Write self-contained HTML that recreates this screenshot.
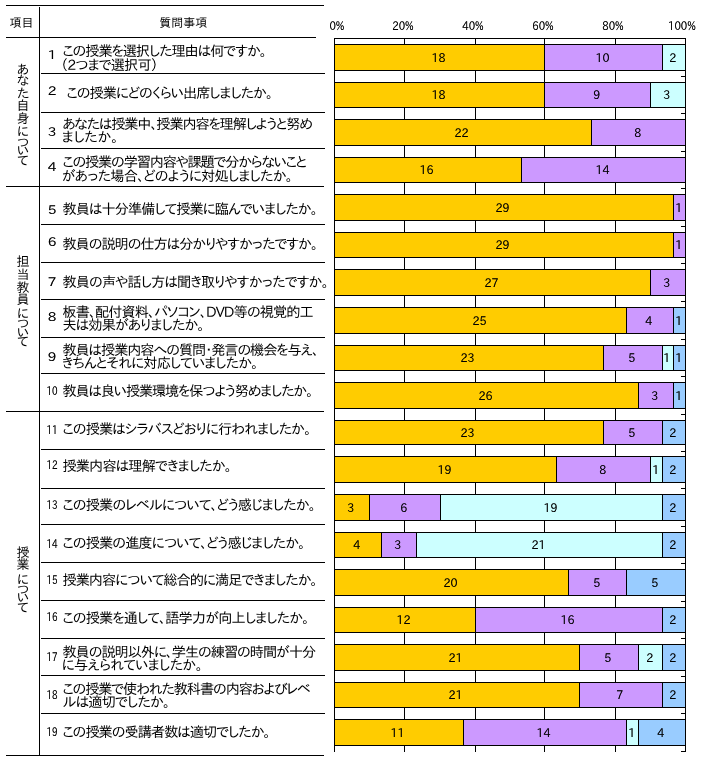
<!DOCTYPE html><html lang="ja"><head><meta charset="utf-8"><title>授業評価アンケート</title><style>
html,body{margin:0;padding:0;background:#fff;}
body{width:707px;height:768px;position:relative;overflow:hidden;font-family:"IPAPGothic","IPAGothic","Liberation Sans","Noto Sans CJK JP",sans-serif;color:#000;}
.n,.seg,.ax{text-shadow:0 0 0 rgba(0,0,0,.5);}
.l{position:absolute;background:#000;}
.q{position:absolute;left:0;top:0;font-size:14.2px;fill:#000;}
.h{position:absolute;white-space:nowrap;font-size:12px;line-height:14px;}
.n{position:absolute;white-space:nowrap;font-size:12px;line-height:14px;text-align:center;width:20px;}
.n{transform:scaleX(1.15);}
.n.s{transform:scaleX(0.74);}
.vs{position:absolute;left:0;top:0;font-size:13px;fill:#000;}
.seg{position:absolute;box-sizing:border-box;border:1px solid #000;font-size:12px;text-align:center;overflow:hidden;white-space:nowrap;}
.seg span{display:inline-block;transform:scaleX(0.93);position:relative;left:-1px;top:-1px;}
.ax{position:absolute;font-size:12px;line-height:12px;width:40px;text-align:center;transform:scaleX(0.85);}
</style></head><body>
<div class="l" style="left:6px;top:5px;width:318px;height:1px"></div>
<div class="l" style="left:6px;top:37px;width:310px;height:1px"></div>
<div class="l" style="left:6px;top:186px;width:318px;height:1px"></div>
<div class="l" style="left:6px;top:411px;width:318px;height:1px"></div>
<div class="l" style="left:6px;top:755px;width:318px;height:1px"></div>
<div class="l" style="left:41px;top:73px;width:284px;height:1px"></div>
<div class="l" style="left:41px;top:112px;width:284px;height:1px"></div>
<div class="l" style="left:41px;top:148px;width:284px;height:1px"></div>
<div class="l" style="left:41px;top:224px;width:284px;height:1px"></div>
<div class="l" style="left:41px;top:262px;width:284px;height:1px"></div>
<div class="l" style="left:41px;top:299px;width:284px;height:1px"></div>
<div class="l" style="left:41px;top:337px;width:284px;height:1px"></div>
<div class="l" style="left:41px;top:373px;width:284px;height:1px"></div>
<div class="l" style="left:41px;top:449px;width:284px;height:1px"></div>
<div class="l" style="left:41px;top:488px;width:284px;height:1px"></div>
<div class="l" style="left:41px;top:524px;width:284px;height:1px"></div>
<div class="l" style="left:41px;top:562px;width:284px;height:1px"></div>
<div class="l" style="left:41px;top:600px;width:284px;height:1px"></div>
<div class="l" style="left:41px;top:638px;width:284px;height:1px"></div>
<div class="l" style="left:41px;top:675px;width:284px;height:1px"></div>
<div class="l" style="left:41px;top:713px;width:284px;height:1px"></div>
<div class="l" style="left:39px;top:7px;width:1px;height:748px"></div>
<div class="h" style="left:9.5px;top:15px;">項目</div>
<div class="h" style="left:159.3px;top:15px;">質問事項</div>
<svg class="vs" width="40" height="768" viewBox="0 0 40 768"><text x="23 23 23 23 23 23 23 23 23" y="73.6 85.1 97.8 110.0 122.7 135.9 146.9 155.4 165.1" text-anchor="middle">あなた自身について</text></svg>
<svg class="vs" width="40" height="768" viewBox="0 0 40 768"><text x="23 23 23 23 23 23 23 23" y="265.9 278.6 291.7 304.4 317.6 328.1 337.1 346.4" text-anchor="middle">担当教員について</text></svg>
<svg class="vs" width="40" height="768" viewBox="0 0 40 768"><text x="23 23 23 23 23 23" y="556.7 569.4 583.7 593.9 602.4 611.7" text-anchor="middle">授業について</text></svg>
<div class="n" style="left:42.2px;top:46.7px;">1</div>
<div class="n" style="left:42.2px;top:83.4px;">2</div>
<div class="n" style="left:42.2px;top:124.2px;">3</div>
<div class="n" style="left:42.2px;top:159.0px;">4</div>
<div class="n" style="left:42.2px;top:202.0px;">5</div>
<div class="n" style="left:42.2px;top:233.7px;">6</div>
<div class="n" style="left:42.2px;top:273.8px;">7</div>
<div class="n" style="left:42.2px;top:309.0px;">8</div>
<div class="n" style="left:42.2px;top:349.4px;">9</div>
<div class="n s" style="left:41.5px;top:383.4px;">10</div>
<div class="n s" style="left:41.5px;top:422.3px;">11</div>
<div class="n s" style="left:41.5px;top:457.4px;">12</div>
<div class="n s" style="left:41.5px;top:496.5px;">13</div>
<div class="n s" style="left:41.5px;top:536.1px;">14</div>
<div class="n s" style="left:41.5px;top:572.4px;">15</div>
<div class="n s" style="left:41.5px;top:608.7px;">16</div>
<div class="n s" style="left:41.5px;top:649.0px;">17</div>
<div class="n s" style="left:41.5px;top:687.3px;">18</div>
<div class="n s" style="left:41.5px;top:724.4px;">19</div>
<svg class="q" width="707" height="768" viewBox="0 0 707 768">
<text x="62.40" y="56" textLength="204.46" lengthAdjust="spacing">この授業を選択した理由は何ですか。</text>
<text x="60.30" y="70" textLength="98.24" lengthAdjust="spacing">（2つまで選択可）</text>
<text x="66.60" y="98" textLength="206.48" lengthAdjust="spacing">この授業にどのくらい出席しましたか。</text>
<text x="62.40" y="129" textLength="250.74" lengthAdjust="spacing">あなたは授業中、授業内容を理解しようと努め</text>
<text x="61.70" y="142" textLength="56.52" lengthAdjust="spacing">ましたか。</text>
<text x="62.40" y="167" textLength="244.74" lengthAdjust="spacing">この授業の学習内容や課題で分からないこと</text>
<text x="61.70" y="181" textLength="231.18" lengthAdjust="spacing">があった場合、どのように対処しましたか。</text>
<text x="62.40" y="214" textLength="255.48" lengthAdjust="spacing">教員は十分準備して授業に臨んでいましたか。</text>
<text x="62.40" y="249" textLength="255.64" lengthAdjust="spacing">教員の説明の仕方は分かりやすかったですか。</text>
<text x="62.40" y="287" textLength="266.32" lengthAdjust="spacing">教員の声や話し方は聞き取りやすかったですか。</text>
<text x="62.40" y="317" textLength="251.24" lengthAdjust="spacing">板書、配付資料、パソコン、DVD等の視覚的工</text>
<text x="62.40" y="330" textLength="142.14" lengthAdjust="spacing">夫は効果がありましたか。</text>
<text x="62.40" y="355" textLength="256.68" lengthAdjust="spacing">教員は授業内容への質問・発言の機会を与え、</text>
<text x="61.70" y="368" textLength="196.66" lengthAdjust="spacing">きちんとそれに対応していましたか。</text>
<text x="62.40" y="396" textLength="250.82" lengthAdjust="spacing">教員は良い授業環境を保つよう努めましたか。</text>
<text x="62.40" y="434" textLength="248.82" lengthAdjust="spacing">この授業はシラバスどおりに行われましたか。</text>
<text x="62.40" y="471" textLength="169.48" lengthAdjust="spacing">授業内容は理解できましたか。</text>
<text x="62.40" y="510" textLength="253.46" lengthAdjust="spacing">この授業のレベルについて、どう感じましたか。</text>
<text x="62.40" y="548" textLength="242.96" lengthAdjust="spacing">この授業の進度について、どう感じましたか。</text>
<text x="62.40" y="585" textLength="255.30" lengthAdjust="spacing">授業内容について総合的に満足できましたか。</text>
<text x="62.40" y="623" textLength="246.98" lengthAdjust="spacing">この授業を通して、語学力が向上しましたか。</text>
<text x="62.40" y="657" textLength="253.88" lengthAdjust="spacing">教員の説明以外に、学生の練習の時間が十分</text>
<text x="61.70" y="670" textLength="141.02" lengthAdjust="spacing">に与えられていましたか。</text>
<text x="62.40" y="694" textLength="248.22" lengthAdjust="spacing">この授業で使われた教科書の内容およびレベ</text>
<text x="62.40" y="707" textLength="107.80" lengthAdjust="spacing">ルは適切でしたか。</text>
<text x="62.40" y="737" textLength="208.30" lengthAdjust="spacing">この授業の受講者数は適切でしたか。</text>
</svg>
<div class="ax" style="left:316.8px;top:18.5px;">0%</div>
<div class="ax" style="left:383.0px;top:18.5px;">20%</div>
<div class="ax" style="left:453.3px;top:18.5px;">40%</div>
<div class="ax" style="left:523.1px;top:18.5px;">60%</div>
<div class="ax" style="left:592.9px;top:18.5px;">80%</div>
<div class="ax" style="left:662.0px;top:18.5px;">100%</div>
<div class="l" style="left:334px;top:38px;width:352px;height:1px"></div>
<div class="l" style="left:334px;top:38px;width:1px;height:714px"></div>
<div class="l" style="left:404px;top:38px;width:1px;height:714px"></div>
<div class="l" style="left:475px;top:38px;width:1px;height:714px"></div>
<div class="l" style="left:544px;top:38px;width:1px;height:714px"></div>
<div class="l" style="left:615px;top:38px;width:1px;height:714px"></div>
<div class="l" style="left:685px;top:38px;width:1px;height:714px"></div>
<div class="l" style="left:681px;top:76px;width:4px;height:1px"></div>
<div class="l" style="left:681px;top:113px;width:4px;height:1px"></div>
<div class="l" style="left:681px;top:151px;width:4px;height:1px"></div>
<div class="l" style="left:681px;top:188px;width:4px;height:1px"></div>
<div class="l" style="left:681px;top:226px;width:4px;height:1px"></div>
<div class="l" style="left:681px;top:263px;width:4px;height:1px"></div>
<div class="l" style="left:681px;top:301px;width:4px;height:1px"></div>
<div class="l" style="left:681px;top:339px;width:4px;height:1px"></div>
<div class="l" style="left:681px;top:376px;width:4px;height:1px"></div>
<div class="l" style="left:681px;top:414px;width:4px;height:1px"></div>
<div class="l" style="left:681px;top:451px;width:4px;height:1px"></div>
<div class="l" style="left:681px;top:488px;width:4px;height:1px"></div>
<div class="l" style="left:681px;top:526px;width:4px;height:1px"></div>
<div class="l" style="left:681px;top:563px;width:4px;height:1px"></div>
<div class="l" style="left:681px;top:601px;width:4px;height:1px"></div>
<div class="l" style="left:681px;top:638px;width:4px;height:1px"></div>
<div class="l" style="left:681px;top:676px;width:4px;height:1px"></div>
<div class="l" style="left:681px;top:713px;width:4px;height:1px"></div>
<div class="l" style="left:681px;top:751px;width:4px;height:1px"></div>
<div class="seg" style="left:334px;top:44px;width:211px;height:27px;line-height:26px;background:#ffcc00"><span>18</span></div>
<div class="seg" style="left:544px;top:44px;width:119px;height:27px;line-height:26px;background:#cc99ff"><span>10</span></div>
<div class="seg" style="left:662px;top:44px;width:24px;height:27px;line-height:26px;background:#ccffff"><span>2</span></div>
<div class="seg" style="left:334px;top:82px;width:211px;height:26px;line-height:25px;background:#ffcc00"><span>18</span></div>
<div class="seg" style="left:544px;top:82px;width:107px;height:26px;line-height:25px;background:#cc99ff"><span>9</span></div>
<div class="seg" style="left:650px;top:82px;width:36px;height:26px;line-height:25px;background:#ccffff"><span>3</span></div>
<div class="seg" style="left:334px;top:119px;width:258px;height:27px;line-height:26px;background:#ffcc00"><span>22</span></div>
<div class="seg" style="left:591px;top:119px;width:95px;height:27px;line-height:26px;background:#cc99ff"><span>8</span></div>
<div class="seg" style="left:334px;top:157px;width:188px;height:26px;line-height:25px;background:#ffcc00"><span>16</span></div>
<div class="seg" style="left:521px;top:157px;width:165px;height:26px;line-height:25px;background:#cc99ff"><span>14</span></div>
<div class="seg" style="left:334px;top:194px;width:340px;height:27px;line-height:26px;background:#ffcc00"><span>29</span></div>
<div class="seg" style="left:673px;top:194px;width:13px;height:27px;line-height:26px;background:#cc99ff"><span>1</span></div>
<div class="seg" style="left:334px;top:232px;width:340px;height:26px;line-height:25px;background:#ffcc00"><span>29</span></div>
<div class="seg" style="left:673px;top:232px;width:13px;height:26px;line-height:25px;background:#cc99ff"><span>1</span></div>
<div class="seg" style="left:334px;top:269px;width:317px;height:27px;line-height:26px;background:#ffcc00"><span>27</span></div>
<div class="seg" style="left:650px;top:269px;width:36px;height:27px;line-height:26px;background:#cc99ff"><span>3</span></div>
<div class="seg" style="left:334px;top:307px;width:293px;height:27px;line-height:26px;background:#ffcc00"><span>25</span></div>
<div class="seg" style="left:626px;top:307px;width:48px;height:27px;line-height:26px;background:#cc99ff"><span>4</span></div>
<div class="seg" style="left:673px;top:307px;width:13px;height:27px;line-height:26px;background:#99ccff"><span>1</span></div>
<div class="seg" style="left:334px;top:345px;width:270px;height:26px;line-height:25px;background:#ffcc00"><span>23</span></div>
<div class="seg" style="left:603px;top:345px;width:60px;height:26px;line-height:25px;background:#cc99ff"><span>5</span></div>
<div class="seg" style="left:662px;top:345px;width:12px;height:26px;line-height:25px;background:#ccffff"><span>1</span></div>
<div class="seg" style="left:673px;top:345px;width:13px;height:26px;line-height:25px;background:#99ccff"><span>1</span></div>
<div class="seg" style="left:334px;top:382px;width:305px;height:27px;line-height:26px;background:#ffcc00"><span>26</span></div>
<div class="seg" style="left:638px;top:382px;width:36px;height:27px;line-height:26px;background:#cc99ff"><span>3</span></div>
<div class="seg" style="left:673px;top:382px;width:13px;height:27px;line-height:26px;background:#99ccff"><span>1</span></div>
<div class="seg" style="left:334px;top:420px;width:270px;height:25px;line-height:24px;background:#ffcc00"><span>23</span></div>
<div class="seg" style="left:603px;top:420px;width:60px;height:25px;line-height:24px;background:#cc99ff"><span>5</span></div>
<div class="seg" style="left:662px;top:420px;width:24px;height:25px;line-height:24px;background:#99ccff"><span>2</span></div>
<div class="seg" style="left:334px;top:456px;width:223px;height:27px;line-height:26px;background:#ffcc00"><span>19</span></div>
<div class="seg" style="left:556px;top:456px;width:95px;height:27px;line-height:26px;background:#cc99ff"><span>8</span></div>
<div class="seg" style="left:650px;top:456px;width:13px;height:27px;line-height:26px;background:#ccffff"><span>1</span></div>
<div class="seg" style="left:662px;top:456px;width:24px;height:27px;line-height:26px;background:#99ccff"><span>2</span></div>
<div class="seg" style="left:334px;top:494px;width:36px;height:27px;line-height:26px;background:#ffcc00"><span>3</span></div>
<div class="seg" style="left:369px;top:494px;width:72px;height:27px;line-height:26px;background:#cc99ff"><span>6</span></div>
<div class="seg" style="left:440px;top:494px;width:223px;height:27px;line-height:26px;background:#ccffff"><span>19</span></div>
<div class="seg" style="left:662px;top:494px;width:24px;height:27px;line-height:26px;background:#99ccff"><span>2</span></div>
<div class="seg" style="left:334px;top:532px;width:48px;height:26px;line-height:25px;background:#ffcc00"><span>4</span></div>
<div class="seg" style="left:381px;top:532px;width:36px;height:26px;line-height:25px;background:#cc99ff"><span>3</span></div>
<div class="seg" style="left:416px;top:532px;width:247px;height:26px;line-height:25px;background:#ccffff"><span>21</span></div>
<div class="seg" style="left:662px;top:532px;width:24px;height:26px;line-height:25px;background:#99ccff"><span>2</span></div>
<div class="seg" style="left:334px;top:569px;width:235px;height:27px;line-height:26px;background:#ffcc00"><span>20</span></div>
<div class="seg" style="left:568px;top:569px;width:59px;height:27px;line-height:26px;background:#cc99ff"><span>5</span></div>
<div class="seg" style="left:626px;top:569px;width:60px;height:27px;line-height:26px;background:#99ccff"><span>5</span></div>
<div class="seg" style="left:334px;top:607px;width:142px;height:26px;line-height:25px;background:#ffcc00"><span>12</span></div>
<div class="seg" style="left:475px;top:607px;width:188px;height:26px;line-height:25px;background:#cc99ff"><span>16</span></div>
<div class="seg" style="left:662px;top:607px;width:24px;height:26px;line-height:25px;background:#99ccff"><span>2</span></div>
<div class="seg" style="left:334px;top:644px;width:246px;height:27px;line-height:26px;background:#ffcc00"><span>21</span></div>
<div class="seg" style="left:579px;top:644px;width:60px;height:27px;line-height:26px;background:#cc99ff"><span>5</span></div>
<div class="seg" style="left:638px;top:644px;width:25px;height:27px;line-height:26px;background:#ccffff"><span>2</span></div>
<div class="seg" style="left:662px;top:644px;width:24px;height:27px;line-height:26px;background:#99ccff"><span>2</span></div>
<div class="seg" style="left:334px;top:682px;width:246px;height:26px;line-height:25px;background:#ffcc00"><span>21</span></div>
<div class="seg" style="left:579px;top:682px;width:84px;height:26px;line-height:25px;background:#cc99ff"><span>7</span></div>
<div class="seg" style="left:662px;top:682px;width:24px;height:26px;line-height:25px;background:#99ccff"><span>2</span></div>
<div class="seg" style="left:334px;top:719px;width:130px;height:27px;line-height:26px;background:#ffcc00"><span>11</span></div>
<div class="seg" style="left:463px;top:719px;width:164px;height:27px;line-height:26px;background:#cc99ff"><span>14</span></div>
<div class="seg" style="left:626px;top:719px;width:13px;height:27px;line-height:26px;background:#ccffff"><span>1</span></div>
<div class="seg" style="left:638px;top:719px;width:48px;height:27px;line-height:26px;background:#99ccff"><span>4</span></div>
</body></html>
